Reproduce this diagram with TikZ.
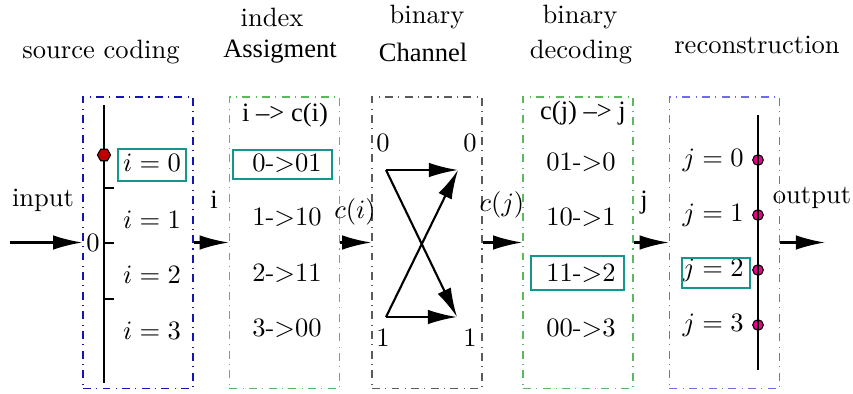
\documentclass[tikz,border=0pt]{standalone}
\usepackage{fontspec}
\newfontfamily\timesfont{Liberation Serif}
\usetikzlibrary{arrows.meta, shapes.geometric}

\definecolor{srcblue}{RGB}{20,20,180}
\definecolor{recblue}{RGB}{110,110,225}
\definecolor{mapgreen}{RGB}{90,185,90}
\definecolor{chgray}{RGB}{90,90,90}
\definecolor{hlteal}{RGB}{20,150,140}

\begin{document}
\begin{tikzpicture}[x=0.6625cm, y=0.6625cm,
    block/.style={draw, dash dot, line width=0.5pt, minimum width=1.46cm, minimum height=3.86cm, inner sep=0},
    arr/.style={-{Latex[length=11pt, width=5.5pt]}, line width=0.8pt},
    hl/.style={draw=hlteal, line width=0.5pt}]

    \useasboundingbox (0,0) rectangle (17.06,7.86);

    % blocks
    \node[block, draw=srcblue] (src) at (2.76,3.01) {};
    \node[block, draw=mapgreen] (idx) at (5.69,3.01) {};
    \node[block, draw=chgray] (chan) at (8.54,3.01) {};
    \node[block, draw=mapgreen] (dec) at (11.56,3.01) {};
    \node[block, draw=recblue] (rec) at (14.49,3.01) {};

    % titles
    \node (t1) at (2.02,6.82) {source coding};
    \node (t2a) at (5.44,7.52) {index};
    \node (t2b) at (5.6,6.82) {\timesfont Assigment};
    \node (t3a) at (8.54,7.52) {binary};
    \node (t3b) at (8.46,6.82) {\timesfont Channel};
    \node (t4a) at (11.6,7.52) {binary};
    \node (t4b) at (11.62,6.82) {decoding};
    \node (t5) at (15.14,6.96) {reconstruction};

    % source coding
    \draw[line width=0.8pt] (2.08,5.76) -- (2.08,0.2);
    \foreach \y in {4.1,3.0,1.88}
        \draw[line width=0.8pt] (2.08,\y) -- ++(0.2,0);
    \node (zero) at (1.86,3.0) {0};
    \node[regular polygon, regular polygon sides=6, draw, fill=red!75!black, minimum size=5pt, inner sep=0] (pt) at (2.08,4.76) {};
    \foreach \k/\y in {0/4.6, 1/3.46, 2/2.36, 3/1.24}
        \node (i\k) at (3.04,\y) {$i=\k$};
    \draw[hl] (2.36,4.24) rectangle (3.72,4.88);

    % index assignment
    \node (map1) at (5.7,5.56) {\timesfont i \textendash> c(i)};
    \foreach \k/\c/\y in {0/01/4.6, 1/10/3.52, 2/11/2.4, 3/00/1.3}
        \node (a\k) at (5.74,\y) {\k->\c};
    \draw[hl] (4.66,4.28) rectangle (6.64,4.86);

    % binary channel
    \coordinate (in0) at (7.72,4.46);
    \coordinate (in1) at (7.72,1.52);
    \coordinate (out0) at (9.16,4.46);
    \coordinate (out1) at (9.14,1.52);
    \node (l0) at (7.66,5.0) {0};
    \node (l1) at (7.66,1.1) {1};
    \node (r0) at (9.4,5.0) {0};
    \node (r1) at (9.4,1.1) {1};
    \draw[arr] (in0) -- (out0);
    \draw[arr] (in0) -- (out1);
    \draw[arr] (in1) -- (out1);
    \draw[arr] (in1) -- (out0);

    % binary decoding
    \node (map2) at (11.66,5.6) {\timesfont c(j) \textendash> j};
    \foreach \k/\c/\y in {0/01/4.62, 1/10/3.52, 2/11/2.4, 3/00/1.3}
        \node (b\k) at (11.62,\y) {\c->\k};
    \draw[hl] (10.62,2.06) rectangle (12.48,2.74);

    % reconstruction
    \foreach \k/\y in {0/4.66, 1/3.56, 2/2.46, 3/1.36} {
        \node[circle, draw, fill=magenta, minimum size=4pt, inner sep=0] (d\k) at (15.16,\y) {};
        \node[anchor=east] (j\k) at (15.06,\y) {$j=\k$};
    }
    \draw[line width=0.8pt] (15.16,5.56) -- (15.16,0.46);
    \draw[hl] (13.64,2.1) rectangle (15.0,2.7);

    % connections
    \coordinate (inp) at (0.2,3.01);
    \coordinate (outp) at (16.5,3.01);
    \draw[arr] (inp) -- (src);
    \draw[arr] (src) -- (idx);
    \draw[arr] (idx) -- (chan);
    \draw[arr] (chan) -- (dec);
    \draw[arr] (dec) -- (rec);
    \draw[arr] (rec) -- (outp);
    \node (linp) at (0.86,3.86) {input};
    \node (li) at (4.28,3.86) {\timesfont i};
    \node (lci) at (7.1,3.62) {$c(i)$};
    \node (lcj) at (10.04,3.76) {$c(j)$};
    \node (lj) at (12.88,3.8) {\timesfont j};
    \node (lout) at (16.24,3.9) {output};

\end{tikzpicture}
\end{document}
